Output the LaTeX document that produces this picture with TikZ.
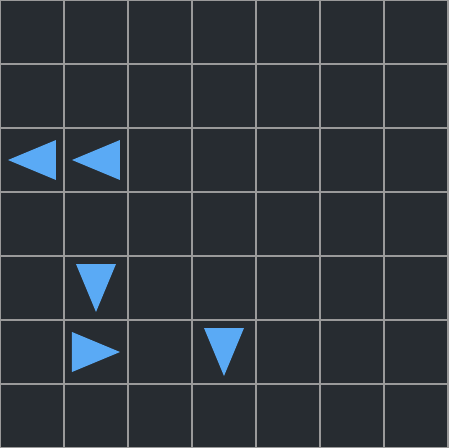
\documentclass[tikz,border=0pt]{standalone}
\usepackage{tikz}
\usetikzlibrary{calc}

\definecolor{boardbg}{HTML}{272C31}
\definecolor{gridline}{HTML}{9A9A9A}
\definecolor{arrowblue}{HTML}{5AAAF5}

\tikzset{
  cellgrid/.style={gridline, line width=1pt},
  pointer/.style={fill=arrowblue, draw=none}
}

\begin{document}
\begin{tikzpicture}
% Board
\fill[boardbg] (0,0) rectangle (7,7);
\useasboundingbox (0,0) rectangle (7,7);
\draw[cellgrid] (0,0) grid (7,7);

% Pointers: cell centre and heading
\foreach \x/\y/\a in {0.5/4.5/180, 1.5/4.5/180, 1.5/2.5/-90, 1.5/1.5/0, 3.5/1.5/-90} {
  \fill[pointer, shift={(\x,\y)}, rotate=\a]
    (-0.375,0.3125) -- (0.375,0) -- (-0.375,-0.3125) -- cycle;
}
\end{tikzpicture}
\end{document}
